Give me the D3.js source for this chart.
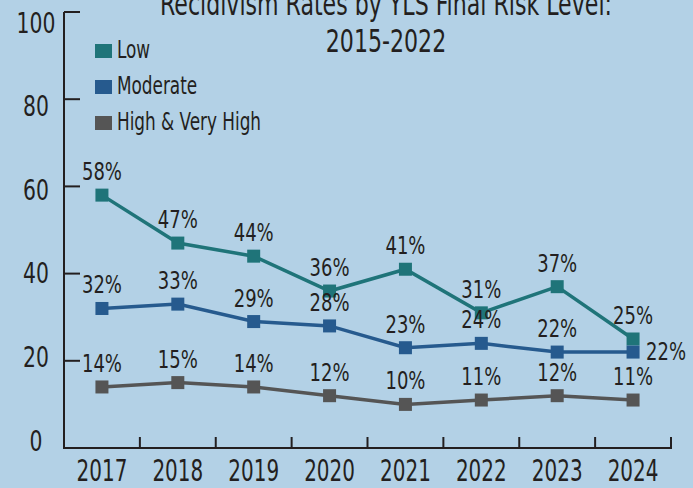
<!DOCTYPE html>
<html><head><meta charset="utf-8">
<script src="https://cdn.jsdelivr.net/npm/d3@7"></script>
<style>
html,body{margin:0;padding:0;background:#b3d1e6;}
svg{display:block;}
text{font-family:"DejaVu Sans Condensed","DejaVu Sans",sans-serif;font-stretch:condensed;fill:#231f20;}
</style></head>
<body><svg id="c" width="693" height="488"></svg>
<script>
const years = ["2017","2018","2019","2020","2021","2022","2023","2024"];
const seriesNames = ["Low","Moderate","High & Very High"];
const lowValues = [58,47,44,36,41,31,37,25];
const moderateValues = [32,33,29,28,23,24,22,22];
const highValues = [14,15,14,12,10,11,12,11];
const yTicks = [0,20,40,60,80,100];
const titleLines = ["Recidivism Rates by YLS Final Risk Level:","2015-2022"];
const colors = ["#1f7479","#265a8e","#555555"];

const series = [
  {name:seriesNames[0], values:lowValues, color:colors[0]},
  {name:seriesNames[1], values:moderateValues, color:colors[1]},
  {name:seriesNames[2], values:highValues, color:colors[2]}
];

const svg = d3.select("#c");
const x = d3.scaleBand().domain(years).range([64,671]);
const y = d3.scaleLinear().domain([0,100]).range([448,12]);
const yLab = d3.scaleLinear().domain([0,100]).range([440,22]);
const cx = d => x(d) + x.bandwidth()/2;

function txt(parent, X, Y, s, size, sx, anchor){
  return parent.append("text")
    .attr("transform",`translate(${X},${Y}) scale(${sx},1)`)
    .attr("text-anchor",anchor||"middle")
    .style("font-size",size+"px").text(s);
}

// axes
svg.append("line").attr("x1",64).attr("x2",64).attr("y1",y(0)).attr("y2",y(100)).attr("stroke","#231f20").attr("stroke-width",2);
svg.append("line").attr("x1",63).attr("x2",672).attr("y1",y(0)).attr("y2",y(0)).attr("stroke","#231f20").attr("stroke-width",2);
yTicks.filter(v=>v>0).forEach(v=>{
  svg.append("line").attr("x1",64).attr("x2",80).attr("y1",y(v)).attr("y2",y(v)).attr("stroke","#231f20").attr("stroke-width",2);
});
yTicks.forEach(v=> txt(svg, 36, yLab(v)+10.5, v, 29, 0.78));
const bounds = years.slice(1).map(d=>x(d)).concat([x(years[years.length-1])+x.bandwidth()]);
bounds.forEach(b=>{
  svg.append("line").attr("x1",b).attr("x2",b).attr("y1",y(0)).attr("y2",y(0)-11).attr("stroke","#231f20").attr("stroke-width",2);
});
years.forEach(d=> txt(svg, cx(d), 481, d, 30, 0.74));

// title
titleLines.forEach((t,i)=> txt(svg, 386, 15+i*37, t, 31.5, 0.78));

// lines
const line = d3.line().x((v,i)=>cx(years[i])).y(v=>y(v));
series.forEach((s,si)=>{
  svg.append("path").attr("d",line(s.values)).attr("fill","none").attr("stroke",s.color).attr("stroke-width",3.5);
  svg.selectAll(".m"+si).data(s.values).join("rect").attr("class","m"+si)
    .attr("x",(v,i)=>cx(years[i])-6.5).attr("y",v=>y(v)-6.5).attr("width",13).attr("height",13).attr("fill",s.color);
});
series.forEach((s,si)=>{
  s.values.forEach((v,i)=>{
    const last = (si===1 && i===years.length-1);
    if(last) txt(svg, cx(years[i])+13, y(v)+8, v+"%", 25, 0.8, "start");
    else txt(svg, cx(years[i]), y(v)-15, v+"%", 25, 0.8);
  });
});

// legend
series.forEach((s,i)=>{
  svg.append("rect").attr("x",95).attr("y",44+i*36).attr("width",17).attr("height",14).attr("fill",s.color);
  txt(svg, 117, 58+i*36, s.name, 25, 0.75, "start");
});
</script></body></html>
